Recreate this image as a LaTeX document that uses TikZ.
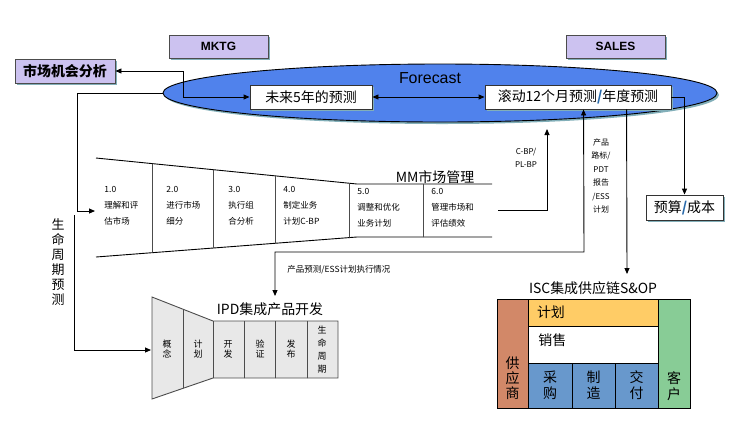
\documentclass[tikz,border=0pt]{standalone}
\usepackage{fontspec}
\setmainfont{Noto Sans CJK SC}
\newfontfamily\arial{Liberation Sans}
\usetikzlibrary{arrows.meta,positioning,shapes.geometric,shadows,calc}

\definecolor{lav}{RGB}{204,194,240}
\definecolor{fcblue}{RGB}{80,130,236}
\definecolor{slash}{RGB}{40,105,170}
\definecolor{shd}{RGB}{130,175,185}
\definecolor{supc}{RGB}{210,136,104}
\definecolor{cusc}{RGB}{136,204,150}
\definecolor{planc}{RGB}{255,204,102}
\definecolor{opsc}{RGB}{104,152,204}
\definecolor{ipdc}{RGB}{232,232,232}

\begin{document}
\begin{tikzpicture}[x=1bp, y=-1bp, line width=0.9bp,
    sh/.style={drop shadow={shadow xshift=2bp, shadow yshift=-2bp, fill=shd, opacity=1}},
    tag/.style={draw=black!70, fill=lav, inner sep=0, sh},
    wbox/.style={draw=black!80, fill=white, inner sep=0, sh, font=\fontsize{14}{14}\selectfont},
    arr/.style={-{Triangle[length=6bp,width=5bp]}},
    dbl/.style={{Triangle[length=6bp,width=5bp]}-{Triangle[length=6bp,width=5bp]}},
    cell/.style={anchor=north west, align=left, inner sep=0, font=\fontsize{8.5}{16}\selectfont},
    vcell/.style={align=center, inner sep=0, font=\fontsize{9}{10}\selectfont},
    note/.style={align=center, inner sep=0, font=\fontsize{8}{13.5}\selectfont},
    title/.style={inner sep=0, font=\fontsize{14}{14}\selectfont},
    isc/.style={draw=black, inner sep=0, font=\fontsize{14}{16}\selectfont, align=center},
]
\useasboundingbox (0,0) rectangle (736,425);

% forecast ellipse and boxes
\node[ellipse, draw=black, fill=fcblue, sh, minimum width=554bp, minimum height=58bp, inner sep=0] (fc) at (440,93) {};
\node[inner sep=0, font=\arial\fontsize{16}{16}\selectfont] (fctxt) at (430,78) {Forecast};
\node[tag, minimum width=99bp, minimum height=23bp, font=\arial\bfseries\fontsize{12}{12}\selectfont] (mktg) at (218.5,46.5) {MKTG};
\node[tag, minimum width=99bp, minimum height=23bp, font=\arial\bfseries\fontsize{12}{12}\selectfont] (sales) at (615.5,46.5) {SALES};
\node[tag, minimum width=100bp, minimum height=24bp, font=\bfseries\fontsize{14}{14}\selectfont] (opp) at (65,71) {市场机会分析};
\node[wbox, minimum width=122bp, minimum height=24bp] (five) at (311,97) {未来5年的预测};
\node[wbox, minimum width=186bp, minimum height=24bp] (roll) at (578,97) {滚动12个月预测{\color{slash}\bfseries /}年度预测};
\node[wbox, minimum width=77bp, minimum height=25bp] (budget) at (684.5,207.5) {预算{\color{slash}\bfseries /}成本};

% MM funnel
\draw (96,158) -- (357,184) -- (492,184);
\draw (96,257) -- (357,237) -- (492,237);
\begin{scope}
  \clip (96,158) -- (357,184) -- (492,184) -- (492,237) -- (357,237) -- (96,257) -- cycle;
  \foreach \x in {152,213,275,349,423}
    \draw[black!70] (\x,150) -- (\x,260);
\end{scope}
\node[title] (mm) at (435,177) {MM市场管理};
\node[cell] (c1) at (104,186) {1.0\\理解和评\\估市场};
\node[cell] (c2) at (166,186) {2.0\\进行市场\\细分};
\node[cell] (c3) at (228,186) {3.0\\执行组\\合分析};
\node[cell] (c4) at (283,186) {4.0\\制定业务\\计划C-BP};
\node[cell] (c5) at (357,188) {5.0\\调整和优化\\业务计划};
\node[cell] (c6) at (431,188) {6.0\\管理市场和\\评估绩效};

% IPD funnel
\draw[fill=ipdc, draw=black!70] (152,297) -- (213,321) -- (338,321) -- (338,378) -- (213,378) -- (152,399) -- cycle;
\begin{scope}
  \clip (152,297) -- (213,321) -- (338,321) -- (338,378) -- (213,378) -- (152,399) -- cycle;
  \foreach \x in {183,213,244,275,307}
    \draw[black!70] (\x,290) -- (\x,405);
\end{scope}
\node[title] (ipd) at (270,309) {IPD集成产品开发};
\node[vcell] (p1) at (167,349) {概\\念};
\node[vcell] (p2) at (198,349) {计\\划};
\node[vcell] (p3) at (228,349) {开\\发};
\node[vcell] (p4) at (260,349) {验\\证};
\node[vcell] (p5) at (291,349) {发\\布};
\node[vcell, font=\fontsize{9}{13}\selectfont] (p6) at (322,350) {生\\命\\周\\期};

% ISC block
\node[title] (isct) at (593,288) {ISC集成供应链S\&OP};
\node[isc, fill=supc, minimum width=31bp, minimum height=109bp] (sup) at (512.5,353.5) {};
\node[isc, fill=cusc, minimum width=32bp, minimum height=109bp] (cus) at (674,353.5) {};
\node[isc, fill=planc, minimum width=130bp, minimum height=27bp] (plan) at (593,312.5) {};
\node[isc, fill=white, minimum width=130bp, minimum height=37bp] (sell) at (593,344.5) {};
\node[isc, fill=opsc, minimum width=44bp, minimum height=45bp] (buy) at (550,385.5) {采\\购};
\node[isc, fill=opsc, minimum width=43bp, minimum height=45bp] (make) at (593.5,385.5) {制\\造};
\node[isc, fill=opsc, minimum width=43bp, minimum height=45bp] (ship) at (636.5,385.5) {交\\付};
\node[isc, draw=none, anchor=west] at (plan.west) [xshift=9bp] {计划};
\node[isc, draw=none, anchor=west] at (538,340) {销售};
\node[isc, draw=none, font=\fontsize{14}{15}\selectfont] at (512.5,378) {供\\应\\商};
\node[isc, draw=none] at (674,386) {客\\户};

% connectors
\coordinate (j1) at (183,71);
\coordinate (mmin) at (95,211);
\coordinate (lcs) at (74,215);
\coordinate (ipdin) at (151,350);
\coordinate (cbp0) at (498,210);
\coordinate (cbp1) at (547,129);
\coordinate (ipdtop) at (275,296);
\coordinate (cr) at (584,252);
\coordinate (iscin) at (627,274);

\draw[dbl] (opp.east) -- (j1) |- (five.west);
\draw[dbl] (five.east) -- (roll.west);
\draw[arr] (fc.west) -- (77,93) |- (mmin);
\draw[arr] (lcs) |- (ipdin);
\draw[arr] (cbp0) -| (cbp1);
\draw[dbl] (ipdtop) |- (cr) -- ($(roll.south west)+(99,0)$);
\draw[arr] ($(roll.south west)+(142,0)$) -- (iscin);
\draw[arr] (roll.east) -| (budget.north);

% labels
\node[note] (cbp) at (526,158) {C-BP/\\PL-BP};
\node[note] (pdt) at (601,176) {产品\\路标/\\PDT\\报告\\/ESS\\计划};
\node[cell, anchor=west, font=\fontsize{8.5}{10}\selectfont] (exec) at (287,270) {产品预测/ESS计划执行情况};
\node[align=center, inner sep=0, font=\fontsize{13}{15}\selectfont] (life) at (58,262) {生\\命\\周\\期\\预\\测};
\end{tikzpicture}
\end{document}
